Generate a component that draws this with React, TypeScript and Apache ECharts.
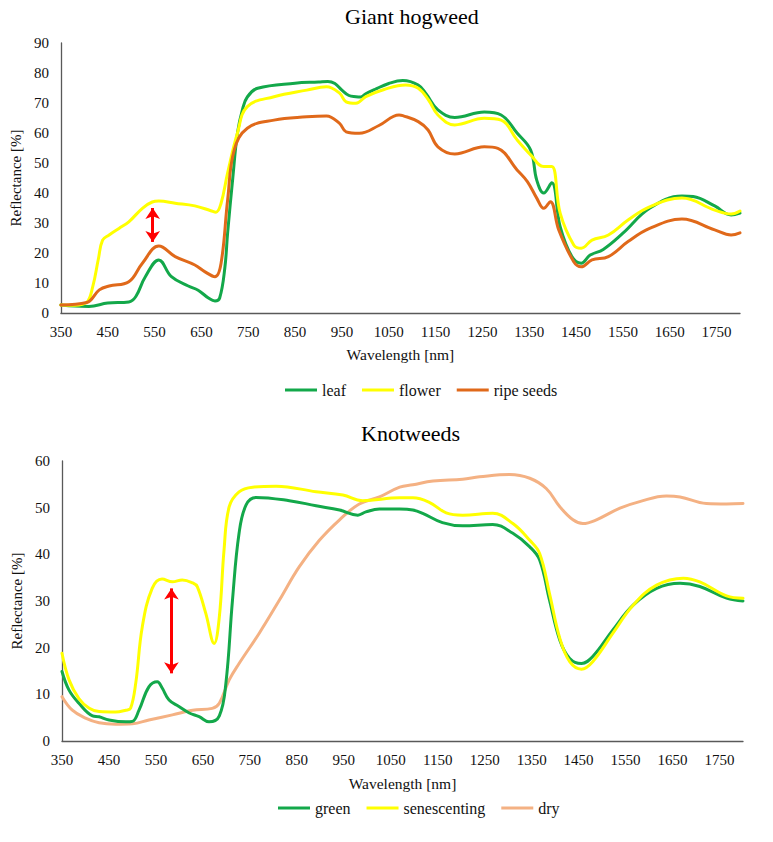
import React, { useEffect, useRef } from "react";
import * as echarts from "echarts";

// ---------- Giant hogweed ----------
const leafWl = [350, 380, 410, 450, 495, 510, 530, 559, 586, 622, 643, 665, 679, 689, 700, 706, 717, 727, 738, 748, 770, 850, 900, 920, 935, 950, 965, 980, 990, 1000, 1020, 1050, 1080, 1113, 1130, 1155, 1191, 1254, 1290, 1324, 1353, 1366, 1381, 1398, 1416, 1441, 1461, 1480, 1508, 1550, 1607, 1676, 1700, 1746, 1781, 1800];
const leafR = [2.7, 2.3, 2.2, 3.3, 3.7, 5.5, 12, 17.7, 12.1, 9, 7.6, 5, 4, 5, 15, 26.7, 45, 60, 68, 72, 74.9, 76.6, 77, 77.2, 76.5, 74.3, 72.5, 72.1, 72, 73, 74.5, 76.5, 77.5, 76, 73, 67.7, 65.2, 67, 66, 60, 54.3, 44.3, 40, 43.4, 28.8, 18.8, 16.6, 19.3, 21.2, 26.6, 34.9, 39, 38.8, 35.7, 32.7, 33.3];

const flowerWl = [350, 380, 405, 418, 430, 439, 453, 474, 495, 524, 545, 559, 594, 636, 670, 681, 692, 706, 727, 748, 805, 875, 917, 945, 959, 980, 1001, 1040, 1086, 1113, 1135, 1155, 1191, 1254, 1290, 1324, 1353, 1381, 1398, 1416, 1445, 1461, 1484, 1519, 1561, 1607, 1676, 1746, 1781, 1800];
const flowerR = [2.7, 2.6, 3.5, 8.8, 18, 24.3, 26, 28.2, 30.4, 34.9, 37, 37.3, 36.6, 35.7, 34.1, 33.6, 36.6, 46.7, 60, 68.8, 72.1, 74.3, 75.4, 73.3, 70.4, 69.9, 72.1, 74.5, 76, 74.9, 71, 66, 62.7, 64.9, 64.3, 57.7, 52.7, 48.8, 48.8, 33.3, 22.7, 21.6, 24.3, 26, 31, 35.4, 38.3, 34.3, 33, 34];

const seedsWl = [350, 405, 432, 453, 495, 524, 559, 594, 636, 657, 679, 692, 706, 720, 748, 805, 875, 917, 945, 959, 987, 1029, 1072, 1080, 1113, 1134, 1155, 1191, 1254, 1283, 1324, 1346, 1366, 1381, 1395, 1413, 1445, 1461, 1484, 1519, 1561, 1607, 1676, 1746, 1781, 1800];
const seedsR = [2.7, 3.5, 7.7, 9, 10.4, 16.6, 22.3, 18.8, 16, 13.8, 12.1, 16.6, 37.7, 54.3, 61.6, 64.3, 65.4, 65.7, 63.2, 60.4, 59.9, 62.5, 66, 65.8, 63.8, 61, 55.4, 53, 55.4, 54.9, 47.7, 43.8, 38.3, 34.9, 37.1, 27.7, 17.1, 15.4, 17.7, 18.8, 23.8, 28.2, 31.3, 27.7, 26, 26.7];

// ---------- Knotweeds ----------
const greenWl = [350, 365, 386, 415, 429, 450, 486, 500, 514, 535, 553, 563, 578, 599, 621, 642, 663, 685, 699, 713, 727, 742, 763, 834, 891, 941, 980, 997, 1026, 1069, 1097, 1118, 1160, 1203, 1267, 1310, 1346, 1367, 1388, 1410, 1431, 1456, 1480, 1523, 1566, 1616, 1666, 1708, 1765, 1800];
const greenR = [14.9, 10.9, 8.1, 5.4, 5.2, 4.5, 4.1, 4.2, 6.6, 11.6, 12.7, 11.4, 8.8, 7.4, 6, 5.2, 4.1, 5.4, 12.4, 30.2, 44.5, 50.6, 52.2, 51.5, 50.4, 49.5, 48.4, 49.1, 49.7, 49.7, 49.5, 48.8, 46.8, 46.1, 46.4, 44.5, 41.6, 38.8, 30.2, 21.6, 17.7, 16.6, 18.1, 23.8, 29.1, 32.7, 33.8, 33.1, 30.6, 30];

const senWl = [350, 365, 386, 408, 429, 464, 486, 496, 507, 521, 542, 563, 585, 606, 628, 638, 656, 674, 685, 695, 706, 727, 756, 806, 891, 948, 990, 1069, 1097, 1133, 1168, 1203, 1267, 1310, 1346, 1367, 1388, 1410, 1431, 1456, 1480, 1523, 1566, 1616, 1673, 1708, 1765, 1800];
const senR = [18.8, 13.1, 9.1, 7, 6.3, 6.2, 6.6, 7, 12.4, 24.5, 32.7, 34.7, 34.1, 34.5, 33.9, 33.1, 27.4, 20.9, 26.6, 40.9, 50.2, 53.4, 54.4, 54.6, 53.4, 52.7, 51.5, 52.1, 52.1, 51.1, 48.9, 48.4, 48.8, 46.6, 43, 40.2, 31.6, 22, 17, 15.4, 17, 23.1, 29.1, 33.4, 34.9, 34.1, 31.1, 30.6];

const dryWl = [350, 372, 400, 429, 464, 500, 535, 585, 628, 670, 685, 706, 727, 770, 813, 855, 898, 941, 983, 1026, 1069, 1097, 1140, 1203, 1239, 1303, 1346, 1381, 1410, 1438, 1459, 1488, 1538, 1580, 1637, 1666, 1722, 1765, 1800];
const dryR = [9.5, 6.6, 4.9, 3.9, 3.6, 3.7, 4.5, 5.6, 6.6, 7, 8.1, 13.1, 16.6, 23.1, 30.2, 37.3, 43, 47.4, 50.8, 52.3, 54.4, 54.9, 55.7, 56.1, 56.6, 57.1, 56.3, 54.1, 50.2, 47.4, 46.6, 47.4, 49.9, 51.3, 52.5, 52.3, 50.9, 50.8, 50.9];

// Arrows: [wavelength, reflectance top, reflectance bottom]
const arrowTop = [546, 35, 23.7];
const arrowBottom = [583, 32.7, 14.5];

const xTickLabels = [350, 450, 550, 650, 750, 850, 950, 1050, 1150, 1250, 1350, 1450, 1550, 1650, 1750];

const FONT = "Liberation Serif, serif";
const C_GREEN = "#13A84A";
const C_YELLOW = "#FFFF00";
const C_ORANGE = "#E0691A";
const C_PEACH = "#F4B183";

function zip(xs: number[], ys: number[]) {
  return xs.map((x, i) => [x, ys[i]]);
}

function xAxisCfg(gridIndex: number, nameGap: number) {
  return {
    gridIndex,
    type: "value",
    min: 350,
    max: 1800,
    interval: 50,
    axisLine: { show: true, onZero: false, lineStyle: { color: "#595959", width: 1.3 } },
    axisTick: { show: false },
    splitLine: { show: false },
    axisLabel: {
      fontFamily: FONT,
      fontSize: 15,
      color: "#111",
      margin: 11,
      showMaxLabel: false,
      formatter: (v: number) => (xTickLabels.includes(v) ? String(v) : ""),
    },
    name: "Wavelength [nm]",
    nameLocation: "middle",
    nameGap,
    nameTextStyle: { fontFamily: FONT, fontSize: 15.5, color: "#111" },
  };
}

function yAxisCfg(gridIndex: number, max: number, nameGap: number) {
  return {
    gridIndex,
    type: "value",
    min: 0,
    max,
    interval: 10,
    axisLine: { show: true, lineStyle: { color: "#595959", width: 1.3 } },
    axisTick: { show: false },
    splitLine: { show: false },
    axisLabel: { fontFamily: FONT, fontSize: 15, color: "#111", margin: 12 },
    name: "Reflectance [%]",
    nameLocation: "middle",
    nameRotate: 90,
    nameGap,
    nameTextStyle: { fontFamily: FONT, fontSize: 15, color: "#111" },
  };
}

function lineSeries(name: string, color: string, xs: number[], ys: number[], idx: number, extra: any = {}) {
  return {
    name,
    type: "line",
    xAxisIndex: idx,
    yAxisIndex: idx,
    data: zip(xs, ys),
    smooth: 0.4,
    showSymbol: false,
    symbol: "none",
    lineStyle: { color, width: 3, cap: "round", join: "round" },
    itemStyle: { color },
    ...extra,
  };
}

function arrowMark(a: number[]) {
  return {
    markLine: {
      silent: true,
      symbol: ["arrow", "arrow"],
      symbolSize: [11, 11],
      label: { show: false },
      lineStyle: { color: "#FF0000", width: 3, type: "solid" },
      emphasis: { disabled: true },
      data: [[{ coord: [a[0], a[1]] }, { coord: [a[0], a[2]] }]],
    },
  };
}

export default function App() {
  const ref = useRef<HTMLDivElement>(null);
  useEffect(() => {
    document.body.style.margin = "0";
    if (!ref.current) return;
    const chart = echarts.init(ref.current, null, { renderer: "svg" });
    const legendCommon = {
      icon: "rect",
      itemWidth: 32,
      itemHeight: 3,
      itemGap: 16,
      orient: "horizontal",
      textStyle: { fontFamily: FONT, fontSize: 16, color: "#111" },
    };
    chart.setOption({
      animation: false,
      backgroundColor: "#ffffff",
      textStyle: { fontFamily: FONT },
      title: [
        { text: "Giant hogweed", left: 340, top: 0, textStyle: { fontFamily: FONT, fontSize: 22, fontWeight: "normal", color: "#000" } },
        { text: "Knotweeds", left: 356, top: 417, textStyle: { fontFamily: FONT, fontSize: 22, fontWeight: "normal", color: "#000" } },
      ],
      legend: [
        { ...legendCommon, data: ["leaf", "flower", "ripe seeds"], left: 280, top: 377 },
        { ...legendCommon, data: ["green", "senescenting", "dry"], left: 273, top: 795 },
      ],
      grid: [
        { left: 51, top: 43, width: 689, height: 270 },
        { left: 62, top: 461, width: 681, height: 280 },
      ],
      xAxis: [xAxisCfg(0, 33), xAxisCfg(1, 34)],
      yAxis: [yAxisCfg(0, 90, 36), yAxisCfg(1, 60, 34)],
      series: [
        lineSeries("leaf", C_GREEN, leafWl, leafR, 0),
        lineSeries("flower", C_YELLOW, flowerWl, flowerR, 0),
        lineSeries("ripe seeds", C_ORANGE, seedsWl, seedsR, 0, arrowMark(arrowTop)),
        lineSeries("dry", C_PEACH, dryWl, dryR, 1),
        lineSeries("green", C_GREEN, greenWl, greenR, 1),
        lineSeries("senescenting", C_YELLOW, senWl, senR, 1, arrowMark(arrowBottom)),
      ],
    });
    return () => chart.dispose();
  }, []);
  return <div ref={ref} style={{ width: 773, height: 842 }} />;
}
